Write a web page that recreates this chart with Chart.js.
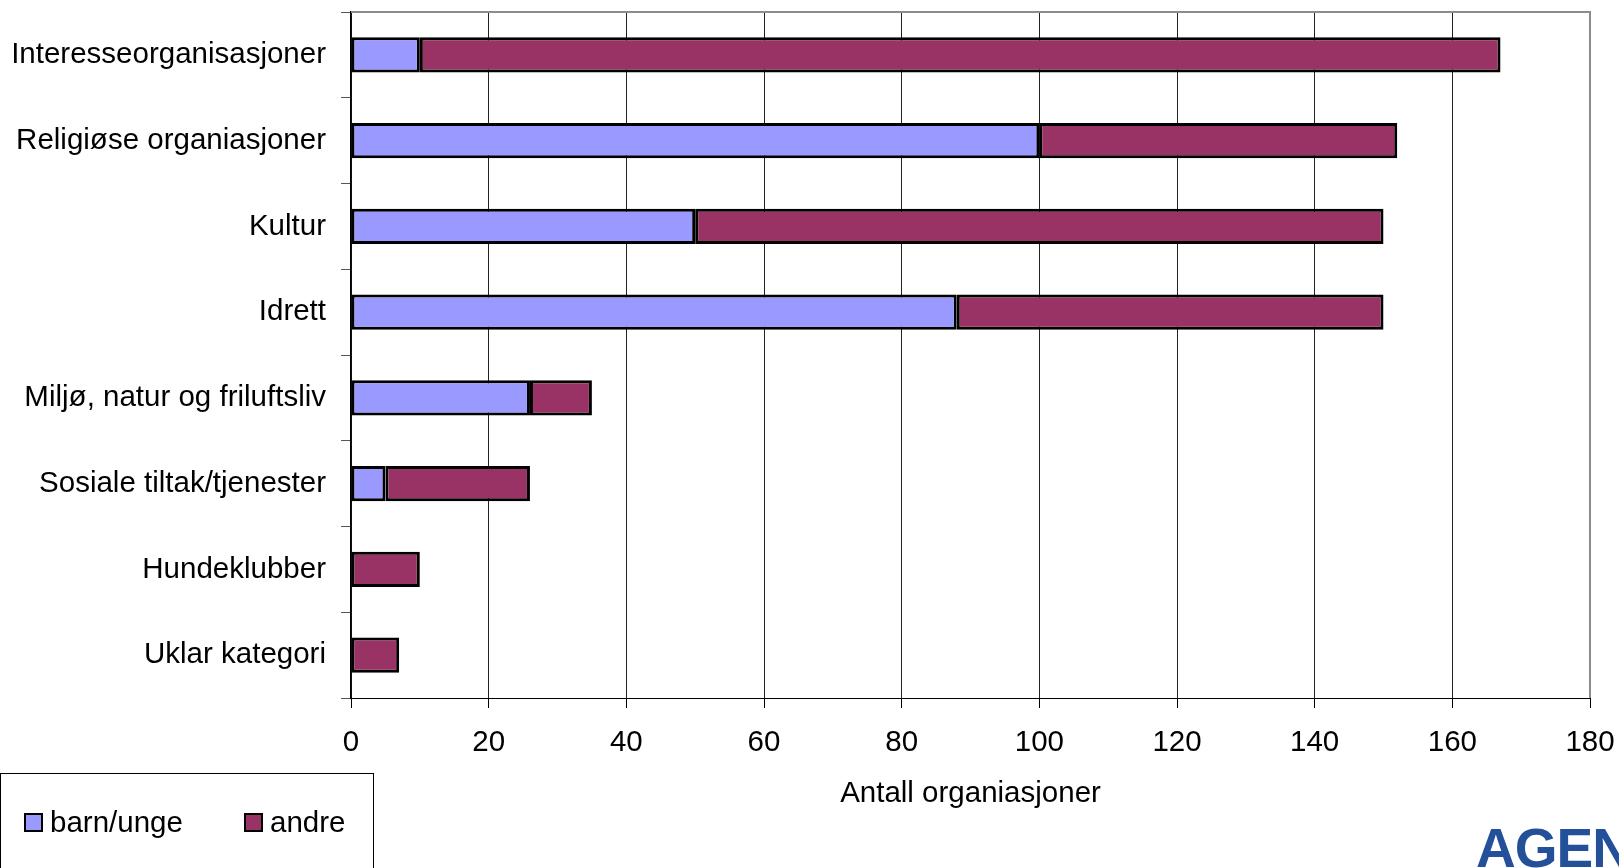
<!DOCTYPE html>
<html>
<head>
<meta charset="utf-8">
<script src="https://cdn.jsdelivr.net/npm/chart.js@4/dist/chart.umd.min.js"></script>
<style>
  html, body { margin: 0; padding: 0; background: #fff; overflow: hidden; }
  #wrap { position: relative; width: 1619px; height: 868px; }
  #logo {
    position: absolute; left: 1476px; top: 816px;
    font-family: "Liberation Sans", Arial, sans-serif; font-weight: bold;
    font-size: 55px; color: #24509a; letter-spacing: -1px; white-space: nowrap;
  }
</style>
</head>
<body>
<div id="wrap">
  <canvas id="chart" width="1619" height="868"></canvas>
  <div id="logo">AGEN</div>
</div>
<script>
let categories = [
    "Interesseorganisasjoner",
    "Religiøse organiasjoner",
    "Kultur",
    "Idrett",
    "Miljø, natur og friluftsliv",
    "Sosiale tiltak/tjenester",
    "Hundeklubber",
    "Uklar kategori"
];
let barnUnge = [10, 100, 50, 88, 26, 5, 0, 0];
let andre = [157, 52, 100, 62, 9, 21, 10, 7];
let xTicks = [0, 20, 40, 60, 80, 100, 120, 140, 160, 180];

let font = "'Liberation Sans', Arial, sans-serif";
Chart.defaults.font.family = font;
Chart.defaults.font.size = 29.5;
Chart.defaults.color = "#000";

// legend box bottom-left, drawn from the datasets
let boxLegend = {
    id: "boxLegend",
    afterDraw(chart) {
        let ctx = chart.ctx;
        ctx.save();
        ctx.strokeStyle = "#000";
        ctx.lineWidth = 1;
        ctx.strokeRect(0.5, 773.5, 373, 120);
        let xs = [25, 245];
        ctx.font = "29.5px " + font;
        ctx.textBaseline = "middle";
        chart.data.datasets.forEach((ds, i) => {
            ctx.fillStyle = ds.backgroundColor;
            ctx.fillRect(xs[i], 814, 17, 17);
            ctx.lineWidth = 2;
            ctx.strokeRect(xs[i], 814, 17, 17);
            ctx.fillStyle = "#000";
            ctx.fillText(ds.label, xs[i] + 25, 824);
        });
        // plot frame top/right
        let a = chart.chartArea;
        ctx.strokeStyle = "#8c8c8c";
        ctx.lineWidth = 2;
        ctx.beginPath();
        ctx.moveTo(a.left, a.top);
        ctx.lineTo(a.right, a.top);
        ctx.lineTo(a.right, a.bottom);
        ctx.stroke();
        ctx.restore();
    }
};

new Chart(document.getElementById("chart"), {
    type: "bar",
    data: {
        labels: categories,
        datasets: [{
            label: "barn/unge",
            data: barnUnge,
            backgroundColor: "#9999ff",
            borderColor: "#000",
            borderWidth: 3,
            borderSkipped: false,
            barPercentage: 0.41,
            categoryPercentage: 1
        }, {
            label: "andre",
            data: andre,
            backgroundColor: "#993366",
            borderColor: "#000",
            borderWidth: 3,
            borderSkipped: false,
            barPercentage: 0.41,
            categoryPercentage: 1
        }]
    },
    options: {
        indexAxis: "y",
        responsive: false,
        animation: false,
        layout: { padding: { top: 12, right: 29, bottom: 56, left: 0 } },
        plugins: {
            legend: { display: false },
            tooltip: { enabled: false }
        },
        scales: {
            x: {
                stacked: true,
                min: 0,
                max: 180,
                afterBuildTicks(scale) {
                    scale.ticks = xTicks.map(v => ({ value: v }));
                },
                afterFit(scale) {
                    scale.height = 114;
                    scale.paddingLeft = 0;
                    scale.paddingRight = 0;
                },
                grid: {
                    color: ctx => ctx.tick && ctx.tick.value === 180 ? "#8c8c8c" : "#222",
                    lineWidth: 1,
                    tickLength: 10,
                    tickColor: "#000"
                },
                border: { color: "#000", width: 1 },
                ticks: { padding: 17, maxRotation: 0 },
                title: {
                    display: true,
                    text: "Antall organiasjoner",
                    padding: 0
                }
            },
            y: {
                stacked: true,
                afterFit(scale) {
                    scale.width = 351;
                    scale.paddingTop = 0;
                    scale.paddingBottom = 0;
                },
                grid: {
                    drawOnChartArea: false,
                    offset: true,
                    tickLength: 10,
                    color: "#555"
                },
                border: { color: "#000", width: 1.5 },
                ticks: { padding: 15 }
            }
        }
    },
    plugins: [boxLegend]
});
</script>
</body>
</html>
